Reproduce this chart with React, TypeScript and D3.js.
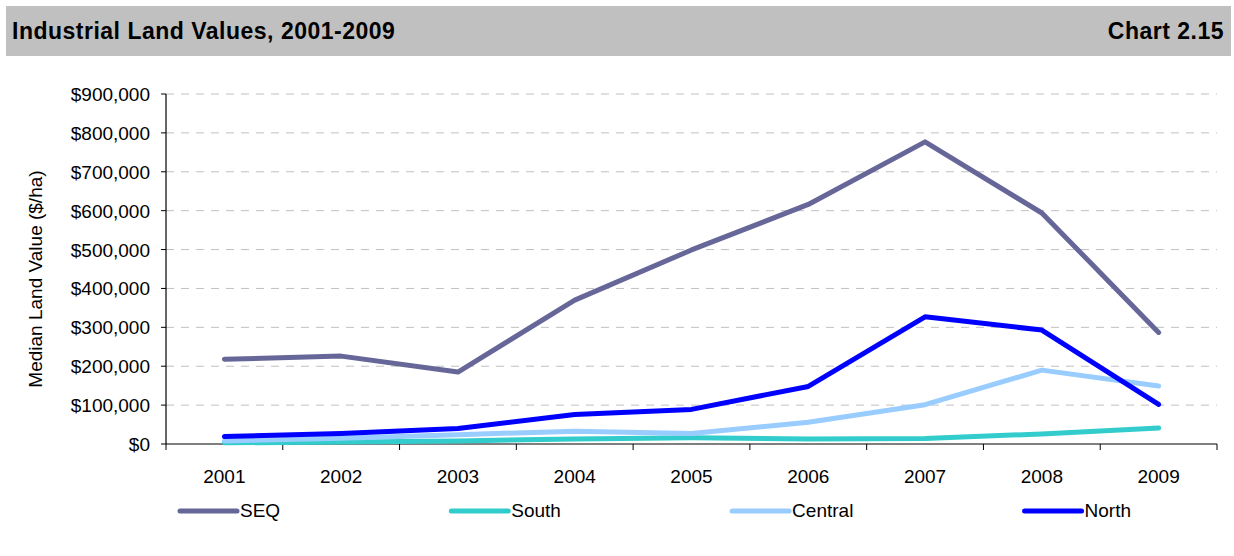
import React from "react";
import * as d3 from "d3";

const years = ["2001", "2002", "2003", "2004", "2005", "2006", "2007", "2008", "2009"];
const seqValues = [218000, 226000, 185000, 370000, 499000, 616000, 777000, 594000, 287000];
const southValues = [3000, 5000, 8000, 13000, 16000, 13000, 14000, 26000, 41000];
const centralValues = [8000, 15000, 24000, 33000, 27000, 56000, 101000, 190000, 149000];
const northValues = [19000, 27000, 40000, 76000, 89000, 148000, 327000, 293000, 102000];
const seriesNames = ["SEQ", "South", "Central", "North"];
const seriesColors = ["#666699", "#33CCCC", "#99CCFF", "#0000FF"];
const yTicks = [0, 100000, 200000, 300000, 400000, 500000, 600000, 700000, 800000, 900000];

const W = 1234;
const H = 556;
const FONT = "'Liberation Sans', Arial, Helvetica, sans-serif";

function measure(text: string, size: number): number {
  if (typeof document === "undefined") return text.length * size * 0.6;
  const c = document.createElement("canvas");
  const ctx = c.getContext("2d");
  if (!ctx) return text.length * size * 0.6;
  ctx.font = `${size}px ${FONT}`;
  return ctx.measureText(text).width;
}

export default function App() {
  const series = [seqValues, southValues, centralValues, northValues];
  const x = d3.scaleBand<string>().domain(years).range([166, 1217]).paddingInner(0).paddingOuter(0);
  const y = d3.scaleLinear().domain([0, 900000]).range([444, 94]);
  const cx = (yr: string) => (x(yr) as number) + x.bandwidth() / 2;
  const line = d3
    .line<number>()
    .x((_, i) => cx(years[i]))
    .y((d) => y(d));
  const fmt = (v: number) => "$" + d3.format(",")(v);
  const boundaries = d3.range(years.length + 1).map((i) => 166 + i * x.bandwidth());

  // legend: equal gaps between items, spanning 180..1131
  const legStart = 180;
  const legEnd = 1131;
  const symW = 57;
  const textGap = 3;
  const itemW = seriesNames.map((n) => symW + textGap + measure(n, 19));
  const gap = (legEnd - legStart - d3.sum(itemW)) / (seriesNames.length - 1);
  const legPos: number[] = [];
  let acc = legStart;
  itemW.forEach((w) => {
    legPos.push(acc);
    acc += w + gap;
  });

  return (
    <svg
      width={W}
      height={H}
      style={{ position: "absolute", left: 0, top: 0, background: "#fff" }}
      fontFamily={FONT}
    >
      <rect x={6} y={6} width={1225} height={50} fill="#c0c0c0" />
      <text x={12} y={39} fontSize={23} fontWeight="bold" letterSpacing={0.5} fill="#000">
        Industrial Land Values, 2001-2009
      </text>
      <text x={1224} y={39} fontSize={23} fontWeight="bold" letterSpacing={0.5} textAnchor="end" fill="#000">
        Chart 2.15
      </text>

      {yTicks.map((t) =>
        t === 0 ? null : (
          <line
            key={"g" + t}
            x1={166}
            x2={1217}
            y1={y(t)}
            y2={y(t)}
            stroke="#c0c0c0"
            strokeWidth={1}
            strokeDasharray="8 7"
          />
        )
      )}

      {yTicks.map((t) => (
        <g key={"t" + t}>
          <line x1={161} x2={166} y1={y(t)} y2={y(t)} stroke="#000" />
          <text x={150} y={y(t) + 7} fontSize={19} textAnchor="end" fill="#000">
            {fmt(t)}
          </text>
        </g>
      ))}

      <line x1={166} x2={166} y1={94} y2={444} stroke="#000" strokeWidth={1.2} />
      <line x1={166} x2={1217} y1={444} y2={444} stroke="#000" strokeWidth={1.2} />
      {boundaries.map((b, i) => (
        <line key={"b" + i} x1={b} x2={b} y1={444} y2={450} stroke="#000" />
      ))}
      {years.map((yr) => (
        <text key={yr} x={cx(yr)} y={483} fontSize={19} textAnchor="middle" fill="#000">
          {yr}
        </text>
      ))}

      <text
        transform={`translate(42, 279) rotate(-90)`}
        fontSize={19}
        textAnchor="middle"
        fill="#000"
      >
        Median Land Value ($/ha)
      </text>

      {series.map((vals, i) => (
        <path
          key={seriesNames[i]}
          d={line(vals) as string}
          fill="none"
          stroke={seriesColors[i]}
          strokeWidth={5}
          strokeLinejoin="round"
          strokeLinecap="round"
        />
      ))}

      {seriesNames.map((n, i) => {
        const lx = legPos[i];
        return (
          <g key={"l" + n}>
            <line x1={lx} x2={lx + symW} y1={511} y2={511} stroke={seriesColors[i]} strokeWidth={5} strokeLinecap="round" />
            <text x={lx + symW + textGap} y={517} fontSize={19} fill="#000">
              {n}
            </text>
          </g>
        );
      })}
    </svg>
  );
}
